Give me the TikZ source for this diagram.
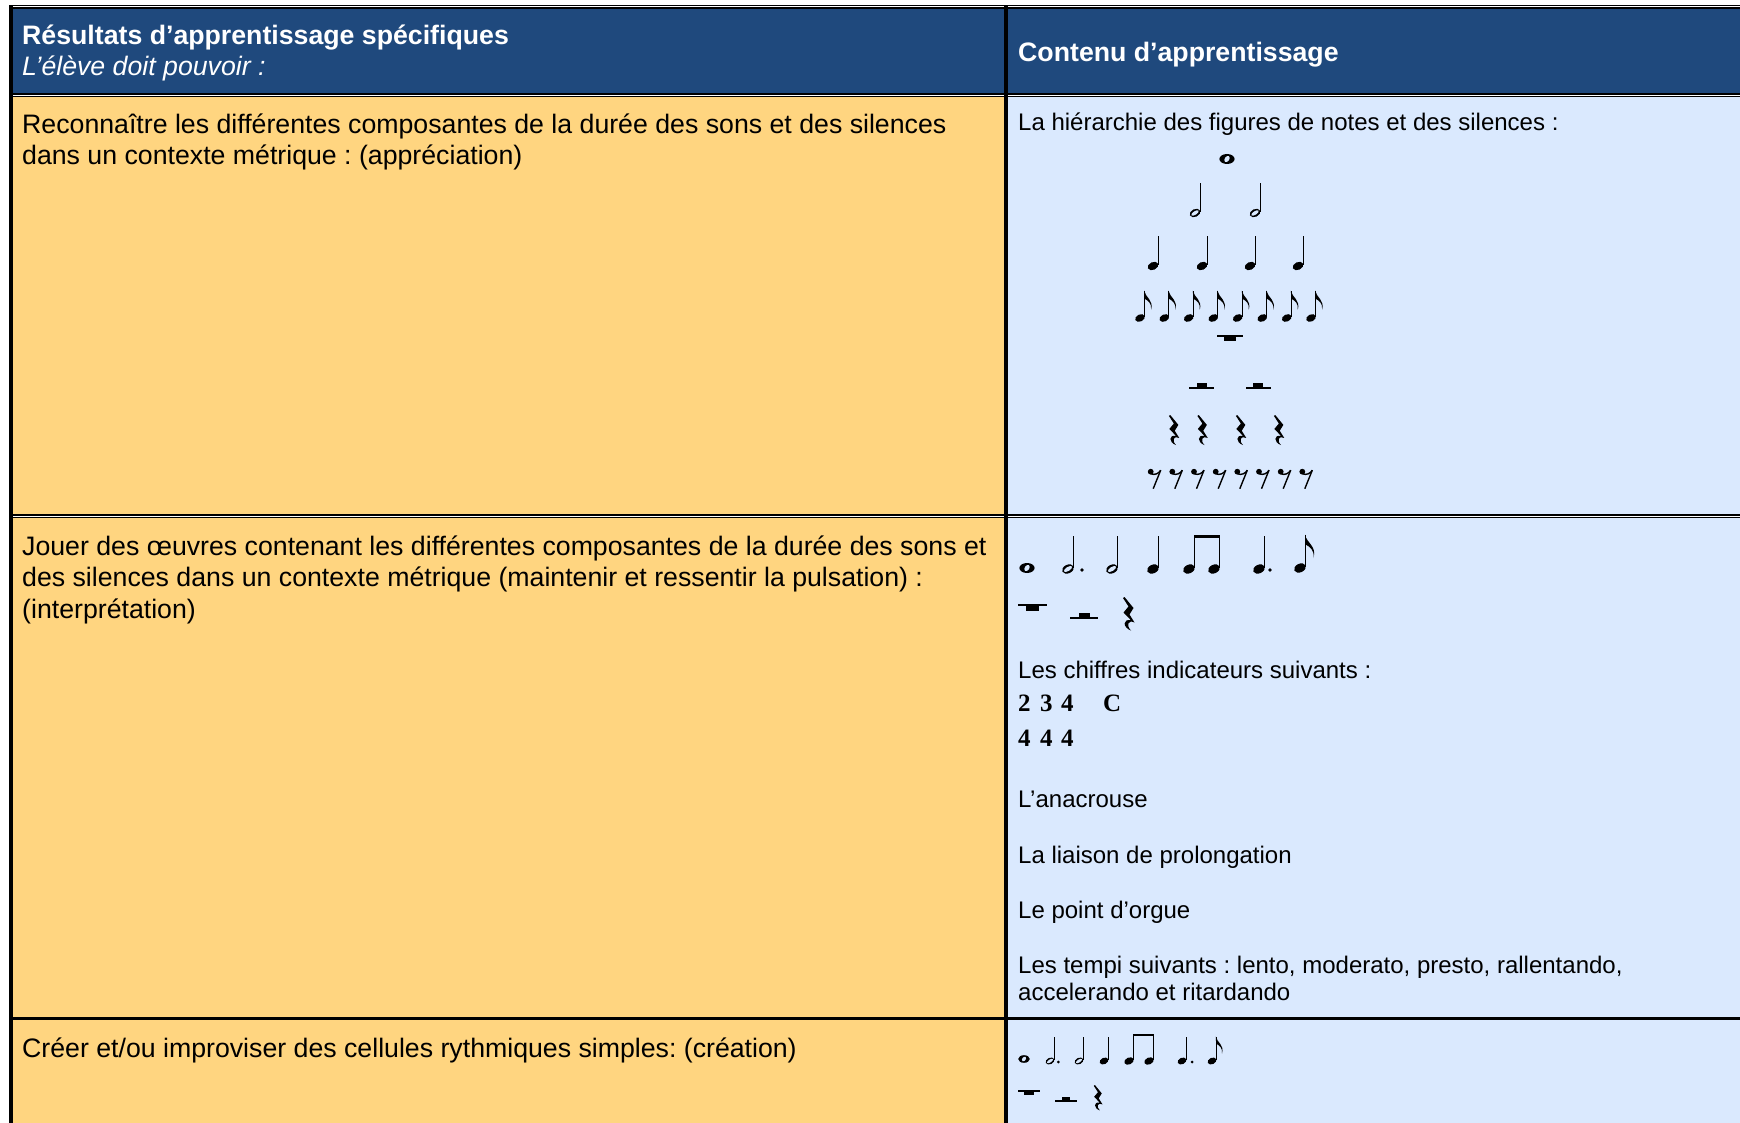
\documentclass[tikz,border=0pt]{standalone}
\usepackage{fontspec}
\setmainfont{Liberation Sans}
\newfontfamily\digitfont{Liberation Serif}
\definecolor{hdrblue}{RGB}{31,73,125}
\definecolor{cellyellow}{RGB}{255,213,128}
\definecolor{cellblue}{RGB}{218,233,254}
\frenchspacing
\tikzset{
  txtL/.style={anchor=base west, inner sep=0pt, font=\fontsize{26.7}{31.5}\selectfont},
  txtR/.style={anchor=base west, inner sep=0pt, font=\fontsize{24}{27.6}\selectfont},
  hdr/.style={anchor=base west, inner sep=0pt, text=white, font=\fontsize{26.7}{31.5}\selectfont\bfseries},
  tsig/.style={anchor=base west, inner sep=0pt, font=\digitfont\fontsize{25}{25}\selectfont\bfseries},
  stemline/.style={line width=1.1pt},
  notehead/.pic={
    \fill[rotate=25] (0,0) ellipse [x radius=6.2, y radius=4.3];
  },
  wholenote/.pic={
    \fill (0,0) ellipse [x radius=7.6, y radius=5.0];
    \fill[cellblue, rotate=-35] (0,0) ellipse [x radius=2.3, y radius=3.4];
  },
  halfnote/.pic={
    \fill[rotate=25] (0,0) ellipse [x radius=6.2, y radius=4.3];
    \fill[cellblue, rotate=32] (0,0) ellipse [x radius=4.7, y radius=2.0];
    \draw[stemline] (5.6,-1) -- (5.6,-33);
  },
  quarternote/.pic={
    \fill[rotate=25] (0,0) ellipse [x radius=6.2, y radius=4.3];
    \draw[stemline] (5.6,-1) -- (5.6,-33);
  },
  eighthnote/.pic={
    \fill[rotate=25] (0,0) ellipse [x radius=6.2, y radius=4.3];
    \draw[stemline] (5.6,-1) -- (5.6,-33);
    \fill (5.05,-33.3) .. controls (6.5,-25) and (17,-22) .. (13.5,-10)
          .. controls (14.5,-18) and (10,-21) .. (5.6,-23.5) -- cycle;
  },
  beamedpair/.pic={
    \fill[rotate=25] (0,0) ellipse [x radius=6.2, y radius=4.3];
    \fill[shift={(25,0)}, rotate=25] (0,0) ellipse [x radius=6.2, y radius=4.3];
    \draw[stemline] (5.6,-1) -- (5.6,-32);
    \draw[stemline] (30.6,-1) -- (30.6,-32);
    \fill (5.05,-34) rectangle (31.15,-30.8);
  },
  wholerest/.pic={
    \fill (-14.5,-0.8) rectangle (14.5,0.8);
    \fill (-6.5,0) rectangle (6.5,5.8);
  },
  halfrest/.pic={
    \fill (-14,-0.8) rectangle (14,0.8);
    \fill (-5.5,0) rectangle (5.5,-5.5);
  },
  quarterrest/.pic={
    \fill (2.5,0) -- (11.5,11) -- (7.5,17.5) -- (12.5,25.5)
      .. controls (6.5,22.5) and (3.5,28) .. (9,33.5)
      .. controls (0.5,30.5) and (0.5,21.5) .. (9,23.3)
      -- (1.5,15.5) -- (6.5,9.5) -- (1,1) -- cycle;
  },
  eighthrest/.pic={
    \fill (0,0) circle (2.9);
    \draw[line width=1.4pt] (0.5,2.2) .. controls (4,3.5) and (8,2) .. (10,-1.5);
    \draw[line width=1.4pt] (10,-1.5) -- (2.5,17);
  },
}
\begin{document}
\begin{tikzpicture}[x=1pt,y=-1pt]
\useasboundingbox (0,0) rectangle (1740,1123);
\fill[white] (0,0) rectangle (1740,1123);
% cell backgrounds
\fill[hdrblue] (12,9) rectangle (1740,93);
\fill[cellyellow] (12,97) rectangle (1004,514);
\fill[cellblue] (1008,97) rectangle (1740,514);
\fill[cellyellow] (12,518) rectangle (1004,1017);
\fill[cellblue] (1008,518) rectangle (1740,1017);
\fill[cellyellow] (12,1020) rectangle (1004,1123);
\fill[cellblue] (1008,1020) rectangle (1740,1123);
% rules
\fill (9,5) rectangle (1740,6.2);
\fill (9,7.2) rectangle (1740,9.4);
\fill (9,92.7) rectangle (1740,94.7);
\fill (9,95.7) rectangle (1740,97);
\fill (9,514) rectangle (1740,516);
\fill (9,517) rectangle (1740,518.3);
\fill (9,1017) rectangle (1740,1020);
\fill (9,5) rectangle (12.5,1123);
\fill (1004,5) rectangle (1008,1123);
% header
\node[hdr] (h1) at (22,45) {Résultats d’apprentissage spécifiques};
\node[hdr, font=\fontsize{26.7}{31.5}\selectfont\itshape] (h2) at (22,76) {L’élève doit pouvoir :};
\node[hdr] (h3) at (1018,61.5) {Contenu d’apprentissage};
% row 1
\node[txtL] (a1) at (22,134) {Reconnaître les différentes composantes de la durée des sons et des silences};
\node[txtL] (a2) at (22,164.5) {dans un contexte métrique : (appréciation)};
\node[txtR] (b1) at (1018,130.5) {La hiérarchie des figures de notes et des silences :};
\pic at (1227,159) {wholenote};
\foreach \x in {1195,1255} \pic[scale=0.9] at (\x,213) {halfnote};
\foreach \x in {1153,1202,1250,1298} \pic[scale=0.9] at (\x,266) {quarternote};
\foreach \x in {1140,1164.3,1188.7,1213.3,1237.7,1262.3,1286.7,1311} \pic[scale=0.82] at (\x,318) {eighthnote};
\pic[scale=0.9] at (1230,336) {wholerest};
\foreach \x in {1201.7,1258.3} \pic[scale=0.9] at (\x,388) {halfrest};
\foreach \x in {1168,1196.5,1235,1273} \pic[scale=0.9] at (\x,415) {quarterrest};
\foreach \x in {1150.7,1172.3,1194,1215.7,1237.3,1259,1280.7,1302.3} \pic at (\x,471.7) {eighthrest};
% row 2
\node[txtL] (c1) at (22,555) {Jouer des œuvres contenant les différentes composantes de la durée des sons et};
\node[txtL] (c2) at (22,586.5) {des silences dans un contexte métrique (maintenir et ressentir la pulsation) :};
\node[txtL] (c3) at (22,618) {(interprétation)};
\pic at (1027,568) {wholenote};
\pic at (1068,569) {halfnote};
\fill (1082,570) circle (1.9);
\pic at (1112,569) {halfnote};
\pic at (1153,569) {quarternote};
\pic at (1189,569) {beamedpair};
\pic at (1259,569) {quarternote};
\fill (1270,570) circle (1.9);
\pic at (1300,568) {eighthnote};
\pic at (1032.5,605) {wholerest};
\pic at (1084,618) {halfrest};
\pic at (1122,597) {quarterrest};
\node[txtR] (d1) at (1018,678) {Les chiffres indicateurs suivants :};
\node[tsig] (t1) at (1018,711.7) {2};
\node[tsig] (t2) at (1040,711.7) {3};
\node[tsig] (t3) at (1061,711.7) {4};
\node[tsig] (t4) at (1103,711.7) {C};
\node[tsig] (t5) at (1018,746) {4};
\node[tsig] (t6) at (1040,746) {4};
\node[tsig] (t7) at (1061,746) {4};
\node[txtR] (d2) at (1018,807.5) {L’anacrouse};
\node[txtR] (d3) at (1018,863) {La liaison de prolongation};
\node[txtR] (d4) at (1018,918.5) {Le point d’orgue};
\node[txtR] (d5) at (1018,973) {Les tempi suivants : lento, moderato, presto, rallentando,};
\node[txtR] (d6) at (1018,1000.6) {accelerando et ritardando};
% row 3
\node[txtL] (e1) at (22,1057) {Créer et/ou improviser des cellules rythmiques simples: (création)};
\pic[scale=0.76] at (1024,1059) {wholenote};
\pic[scale=0.74] at (1050,1061) {halfnote};
\fill (1058.3,1062) circle (1.5);
\pic[scale=0.74] at (1079,1061) {halfnote};
\pic[scale=0.74] at (1104,1061) {quarternote};
\pic[scale=0.8] at (1129,1061) {beamedpair};
\pic[scale=0.74] at (1182,1061) {quarternote};
\fill (1192,1062) circle (1.5);
\pic[scale=0.74] at (1212,1061) {eighthnote};
\pic[scale=0.77] at (1029,1091) {wholerest};
\pic[scale=0.77] at (1066,1101) {halfrest};
\pic[scale=0.76] at (1093,1085) {quarterrest};
\end{tikzpicture}
\end{document}
